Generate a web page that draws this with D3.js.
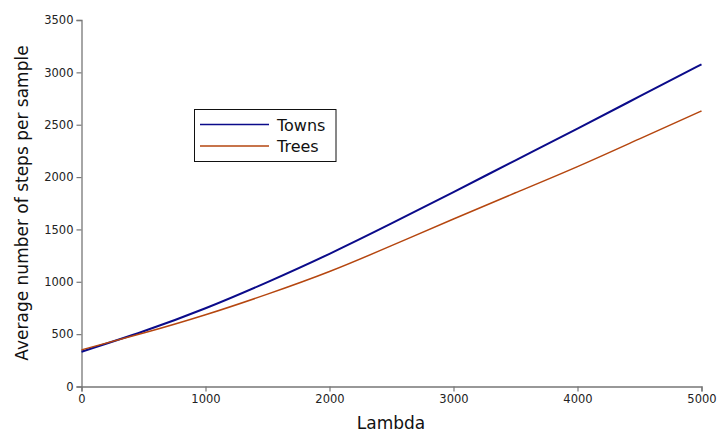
<!DOCTYPE html>
<html><head><meta charset="utf-8">
<script src="https://cdn.jsdelivr.net/npm/d3@7"></script>
<style>html,body{margin:0;padding:0;background:#fff;}svg{display:block;}</style>
</head><body>
<script>
const lambdas = [0, 500, 1000, 1500, 2000, 2500, 3000, 3500, 4000, 4500, 5000];
const towns = [332, 527, 747, 997, 1267, 1557, 1857, 2160, 2463, 2770, 3077];
const trees = [350, 510, 685, 882, 1098, 1345, 1600, 1850, 2100, 2365, 2631];
const xTicks = [0, 1000, 2000, 3000, 4000, 5000];
const yTicks = [0, 500, 1000, 1500, 2000, 2500, 3000, 3500];
const seriesNames = ["Towns", "Trees"];
const seriesColors = ["#0b0b8a", "#b5460f"];

const W = 718, H = 434;
const svg = d3.select("body").append("svg").attr("width", W).attr("height", H);
const x = d3.scaleLinear().domain([0, 5000]).range([81.5, 701.5]);
const y = d3.scaleLinear().domain([0, 3500]).range([386.5, 20]);

const axisColor = "#777";
const font = "DejaVu Sans, sans-serif";

const gx = svg.append("g").attr("transform", "translate(0,386.5)")
  .call(d3.axisBottom(x).tickValues(xTicks).tickSize(5).tickPadding(3).tickFormat(d3.format("d")));
const gy = svg.append("g").attr("transform", "translate(81.5,0)")
  .call(d3.axisLeft(y).tickValues(yTicks).tickSize(5).tickPadding(3).tickFormat(d3.format("d")));
[gx, gy].forEach(g => {
  g.select(".domain").attr("stroke", axisColor).attr("stroke-width", 1.3);
  g.selectAll(".tick line").attr("stroke", axisColor).attr("stroke-width", 1.2);
  g.selectAll(".tick text").attr("fill", "#222").style("font-family", font).style("font-size", "11.5px");
});

const line = d3.line().curve(d3.curveNatural);
[towns, trees].forEach((vals, i) => {
  svg.append("path")
    .attr("d", line(vals.map((v, j) => [x(lambdas[j]), y(v)])))
    .attr("fill", "none").attr("stroke", seriesColors[i])
    .attr("stroke-width", i === 0 ? 2 : 1.5);
});

svg.append("text").attr("x", 391).attr("y", 429).attr("text-anchor", "middle")
  .style("font-family", font).style("font-size", "17px").attr("fill", "#111").text("Lambda");
svg.append("text").attr("transform", "translate(28,203) rotate(-90)").attr("text-anchor", "middle")
  .style("font-family", font).style("font-size", "17px").attr("fill", "#111").text("Average number of steps per sample");

const leg = svg.append("g");
leg.append("rect").attr("x", 194.5).attr("y", 109.5).attr("width", 141.5).attr("height", 52)
  .attr("fill", "#fff").attr("stroke", "#111").attr("stroke-width", 1);
seriesNames.forEach((n, i) => {
  const ly = 124.5 + i * 21.5;
  leg.append("line").attr("x1", 200).attr("x2", 269).attr("y1", ly).attr("y2", ly)
    .attr("stroke", seriesColors[i]).attr("stroke-width", i === 0 ? 1.6 : 1.3);
  leg.append("text").attr("x", 277).attr("y", ly + 6).style("font-family", font).style("font-size", "16px")
    .attr("fill", "#111").text(n);
});
</script>
</body></html>
